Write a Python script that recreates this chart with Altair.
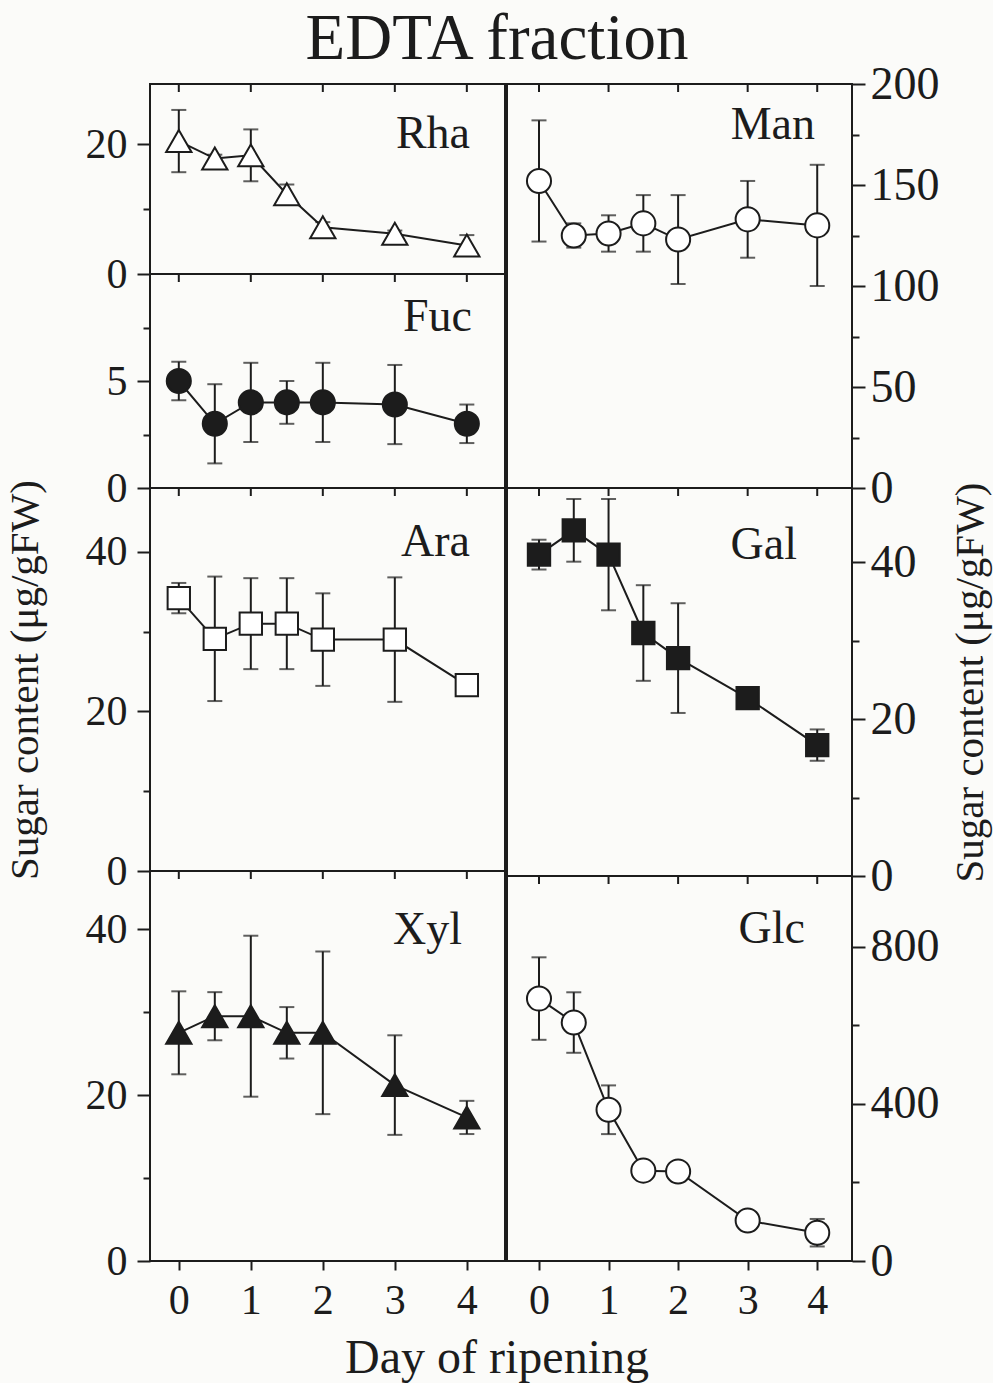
import altair as alt
import pandas as pd

# ---- data ----
days = [0, 0.5, 1, 1.5, 2, 3, 4]
tick_days = [0, 1, 2, 3, 4]

rha = [20.5, 17.8, 18.3, 12.3, 7.2, 6.2, 4.4]
rha_err = [4.8, 0.6, 4.0, 1.5, 0.8, 0.5, 1.6]
fuc = [5.0, 3.0, 4.0, 4.0, 4.0, 3.9, 3.0]
fuc_err = [0.9, 1.85, 1.85, 1.0, 1.85, 1.85, 0.9]
ara = [34.2, 29.1, 31.0, 31.0, 29.0, 29.0, 23.3]
ara_err = [1.9, 7.8, 5.7, 5.7, 5.8, 7.8, 0.5]
xyl = [27.5, 29.5, 29.5, 27.5, 27.5, 21.2, 17.3]
xyl_err = [5.0, 2.9, 9.7, 3.1, 9.8, 6.0, 2.0]
man = [152, 125, 126, 131, 123, 133, 130]
man_err = [30, 6, 9, 14, 22, 19, 30]
gal = [41.0, 44.1, 41.0, 31.0, 27.8, 22.7, 16.7]
gal_err = [1.9, 4.0, 7.1, 6.1, 7.0, 0.5, 2.0]
glc = [668, 607, 385, 230, 228, 103, 72]
glc_err = [105, 77, 62, 10, 10, 10, 35]

FONT = "Liberation Serif"
INK = "#1c1c1c"
BG = "#fbfbf9"

LEFT_W, RIGHT_W = 355, 345
LEFT_XDOM = [-0.40, 4.53]
RIGHT_XDOM = [-0.46, 4.50]


def panel(name, vals, errs, ymax, ticks, major, shape, fill, width, height,
          xdom, side, lab_x, lab_y, bottom=False, ytitle=None):
    df = pd.DataFrame({
        "day": days,
        "v": vals,
        "lo": [v - e for v, e in zip(vals, errs)],
        "hi": [v + e for v, e in zip(vals, errs)],
    })
    xscale = alt.Scale(domain=xdom, nice=False, zero=False)
    yscale = alt.Scale(domain=[0, ymax], nice=False, zero=True)

    if bottom:
        xaxis = alt.Axis(values=tick_days, format="d", orient="bottom", domain=False,
                         grid=False, tickSize=9, tickWidth=2, tickColor=INK,
                         labelFont=FONT, labelFontSize=42, labelColor=INK,
                         labelPadding=10, labelFlush=False, title=None)
    else:
        xaxis = None

    ykw = dict(values=ticks, orient=side, domain=False, grid=False,
               labelExpr=f"datum.value % {major} == 0 ? datum.label : ''",
               tickSize={"condition": {"test": f"datum.value % {major} == 0", "value": 13},
                         "value": 7},
               tickWidth=2, tickColor=INK, labelFont=FONT,
               labelFontSize=42 if side == "left" else 46,
               labelColor=INK, labelPadding=10 if side == "left" else 5,
               labelFlush=False)
    if ytitle:
        ykw.update(title=ytitle, titleFont=FONT, titleFontSize=41,
                   titleFontWeight="normal", titleColor=INK, titleAngle=270,
                   titlePadding=39 if side == "left" else 34)
        if side == "right":
            ykw.update(titleBaseline="top")
    else:
        ykw.update(title=None)
    yaxis = alt.Axis(**ykw)

    X = lambda f: alt.X(f, scale=xscale, axis=xaxis)
    Y = lambda f: alt.Y(f, scale=yscale, axis=yaxis)

    base = alt.Chart(df)
    line = base.mark_line(color=INK, strokeWidth=2).encode(x=X("day:Q"), y=Y("v:Q"))
    bars = base.mark_rule(color=INK, strokeWidth=2).encode(
        x=X("day:Q"), y=Y("lo:Q"), y2="hi:Q")
    cap_lo = base.mark_tick(orient="horizontal", size=15, thickness=2, color=INK).encode(
        x=X("day:Q"), y=Y("lo:Q"))
    cap_hi = base.mark_tick(orient="horizontal", size=15, thickness=2, color=INK).encode(
        x=X("day:Q"), y=Y("hi:Q"))
    size = 640 if shape == "triangle-up" else (500 if shape == "square" else 580)
    pts = base.mark_point(shape=shape, filled=True, fill=fill, stroke=INK,
                          strokeWidth=2, size=size, opacity=1).encode(
        x=X("day:Q"), y=Y("v:Q"))
    top_ticks = alt.Chart(pd.DataFrame({"d": tick_days})).mark_rule(
        color=INK, strokeWidth=2).encode(
        x=X("d:Q"), y=alt.value(0), y2=alt.value(8))
    label = alt.Chart(pd.DataFrame({"t": [name]})).mark_text(
        font=FONT, fontSize=46, color=INK, align="right", baseline="alphabetic"
    ).encode(text="t:N", x=alt.value(lab_x), y=alt.value(lab_y))

    return alt.layer(line, bars, cap_lo, cap_hi, pts, top_ticks, label).properties(
        width=width, height=height)


YT = "Sugar content (μg/gFW)"

left = alt.vconcat(
    panel("Rha", rha, rha_err, 29.3, [0, 10, 20], 20, "triangle-up", "white",
          LEFT_W, 190, LEFT_XDOM, "left", 320, 64),
    panel("Fuc", fuc, fuc_err, 10, [0, 2.5, 5, 7.5], 5, "circle", INK,
          LEFT_W, 214, LEFT_XDOM, "left", 322, 57),
    panel("Ara", ara, ara_err, 48, [0, 10, 20, 30, 40], 20, "square", "white",
          LEFT_W, 383, LEFT_XDOM, "left", 320, 68, ytitle=YT),
    panel("Xyl", xyl, xyl_err, 47, [0, 10, 20, 30, 40], 20, "triangle-up", INK,
          LEFT_W, 390, LEFT_XDOM, "left", 312, 73, bottom=True),
    spacing=0, bounds="flush",
)

right = alt.vconcat(
    panel("Man", man, man_err, 200, [0, 25, 50, 75, 100, 125, 150, 175, 200], 50,
          "circle", "white", RIGHT_W, 404, RIGHT_XDOM, "right", 308, 55),
    panel("Gal", gal, gal_err, 49.5, [0, 10, 20, 30, 40], 20, "square", INK,
          RIGHT_W, 388, RIGHT_XDOM, "right", 290, 71, ytitle=YT),
    panel("Glc", glc, glc_err, 980, [0, 200, 400, 600, 800], 400, "circle", "white",
          RIGHT_W, 385, RIGHT_XDOM, "right", 298, 67, bottom=True),
    spacing=0, bounds="flush",
)

grid = alt.hconcat(left, right, spacing=0).properties(
    title=alt.TitleParams("Day of ripening", orient="bottom", font=FONT,
                          fontSize=48, fontWeight="normal", color=INK,
                          anchor="middle", offset=13)
)

chart = alt.vconcat(grid).properties(
    title=alt.TitleParams("EDTA fraction", font=FONT, fontSize=65,
                          fontWeight="normal", color=INK, anchor="middle",
                          offset=-13),
    padding={"left": 2, "top": 7, "right": 2, "bottom": 0},
    background=BG,
).configure_view(stroke=INK, strokeWidth=2)

chart.save("out.html", embed_options={"renderer": "svg", "actions": False})
